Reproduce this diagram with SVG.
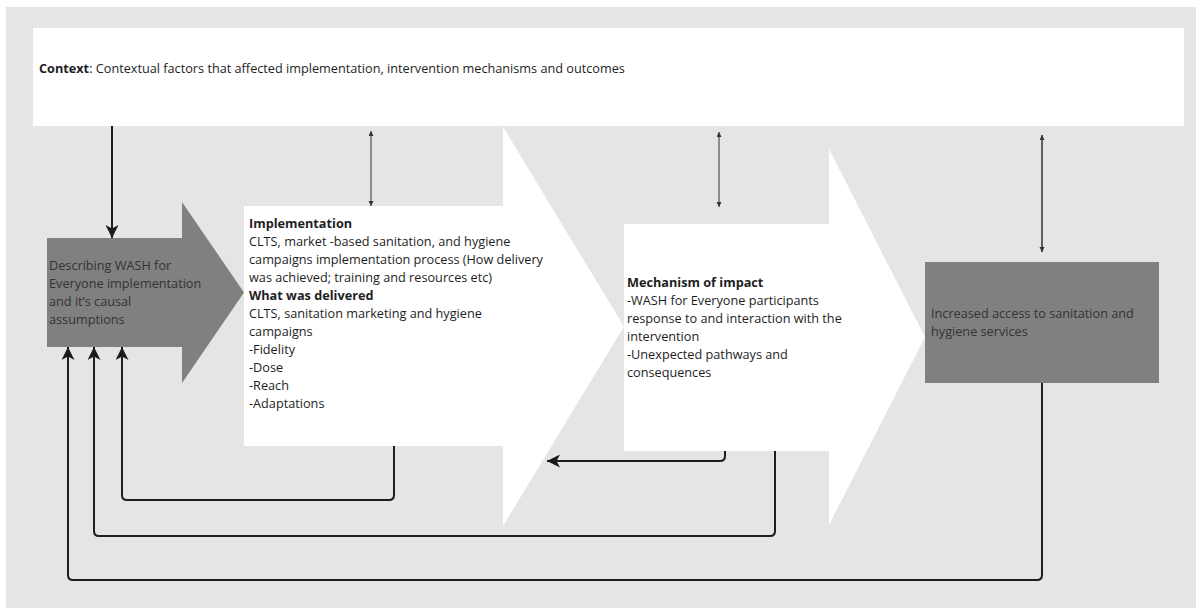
<svg xmlns="http://www.w3.org/2000/svg" width="1203" height="613" viewBox="0 0 1203 613">
  <defs>
    <marker id="big" markerUnits="userSpaceOnUse" markerWidth="14" markerHeight="14" refX="13" refY="6.5" orient="auto-start-reverse">
      <path d="M0,0 L13,6.5 L0,13 L3.5,6.5 z" fill="#1a1a1a"/>
    </marker>
    <marker id="small" markerUnits="userSpaceOnUse" markerWidth="6" markerHeight="6" refX="5" refY="2.5" orient="auto-start-reverse">
      <path d="M0,0 L5,2.5 L0,5 z" fill="#333"/>
    </marker>
    <style>
      text { font-family: "Open Sans", "Noto Sans", "Liberation Sans", sans-serif; font-size: 12.7px; }
      .dark { fill: #1e1e1e; }
      .ongray { fill: #333333; }
      .b { font-weight: bold; }
      .conn { fill: none; stroke: #1e1e1e; stroke-width: 2; }
      .thin { fill: none; stroke: #333; stroke-width: 1; }
    </style>
  </defs>

  <rect x="0" y="0" width="1203" height="613" fill="#ffffff"/>
  <rect x="6" y="7" width="1190" height="601" fill="#e5e5e5"/>

  <g id="context">
    <rect x="33" y="28" width="1151" height="98" fill="#ffffff"/>
    <text x="39" y="73" class="dark"><tspan class="b">Context</tspan>: Contextual factors that affected implementation, intervention mechanisms and outcomes</text>
  </g>

  <g id="describing">
    <polygon points="47,238 182,238 182,202 244,292.5 182,383 182,347 47,347" fill="#808080"/>
    <text class="ongray">
      <tspan x="49" y="269.5">Describing WASH for</tspan>
      <tspan x="49" y="287.5">Everyone implementation</tspan>
      <tspan x="49" y="305.5">and it’s causal</tspan>
      <tspan x="49" y="323.5">assumptions</tspan>
    </text>
  </g>

  <g id="implementation">
    <polygon points="244,206 503,206 503,127 624,326.5 503,526 503,446 244,446" fill="#ffffff"/>
    <text class="dark">
      <tspan x="249" y="227.5" class="b">Implementation</tspan>
      <tspan x="249" y="245.5">CLTS, market -based sanitation, and hygiene</tspan>
      <tspan x="249" y="263.5">campaigns implementation process (How delivery</tspan>
      <tspan x="249" y="281.5">was achieved; training and resources etc)</tspan>
      <tspan x="249" y="299.5" class="b">What was delivered</tspan>
      <tspan x="249" y="317.5">CLTS, sanitation marketing and hygiene</tspan>
      <tspan x="249" y="335.5">campaigns</tspan>
      <tspan x="249" y="353.5">-Fidelity</tspan>
      <tspan x="249" y="371.5">-Dose</tspan>
      <tspan x="249" y="389.5">-Reach</tspan>
      <tspan x="249" y="407.5">-Adaptations</tspan>
    </text>
  </g>

  <g id="mechanism">
    <polygon points="624,224 829,224 829,149 925,337 829,525 829,451 624,451" fill="#ffffff"/>
    <text class="dark">
      <tspan x="627" y="286.5" class="b">Mechanism of impact</tspan>
      <tspan x="627" y="304.5">-WASH for Everyone participants</tspan>
      <tspan x="627" y="322.5">response to and interaction with the</tspan>
      <tspan x="627" y="340.5">intervention</tspan>
      <tspan x="627" y="358.5">-Unexpected pathways and</tspan>
      <tspan x="627" y="376.5">consequences</tspan>
    </text>
  </g>

  <g id="outcome">
    <rect x="925" y="262" width="234" height="121" fill="#808080"/>
    <text class="ongray">
      <tspan x="931" y="318">Increased access to sanitation and</tspan>
      <tspan x="931" y="336">hygiene services</tspan>
    </text>
  </g>

  <g id="connectors">
    <path class="conn" d="M112,126 V238" marker-end="url(#big)"/>
    <path class="thin" d="M371,131 V206" marker-start="url(#small)" marker-end="url(#small)"/>
    <path class="thin" d="M719,132 V207" marker-start="url(#small)" marker-end="url(#small)"/>
    <path class="thin" style="stroke-width:1.5" d="M1042,135 V252" marker-start="url(#small)" marker-end="url(#small)"/>
    <path class="conn" d="M394,446 V495 Q394,500 389,500 H127 Q122,500 122,495 V347" marker-end="url(#big)"/>
    <path class="conn" d="M775,451 V531 Q775,536 770,536 H99 Q94,536 94,531 V347" marker-end="url(#big)"/>
    <path class="conn" d="M1042,383 V575 Q1042,580 1037,580 H73 Q68,580 68,575 V347" marker-end="url(#big)"/>
    <path class="conn" d="M725,451 V456 Q725,461 720,461 H547" marker-end="url(#big)"/>
  </g>
</svg>
